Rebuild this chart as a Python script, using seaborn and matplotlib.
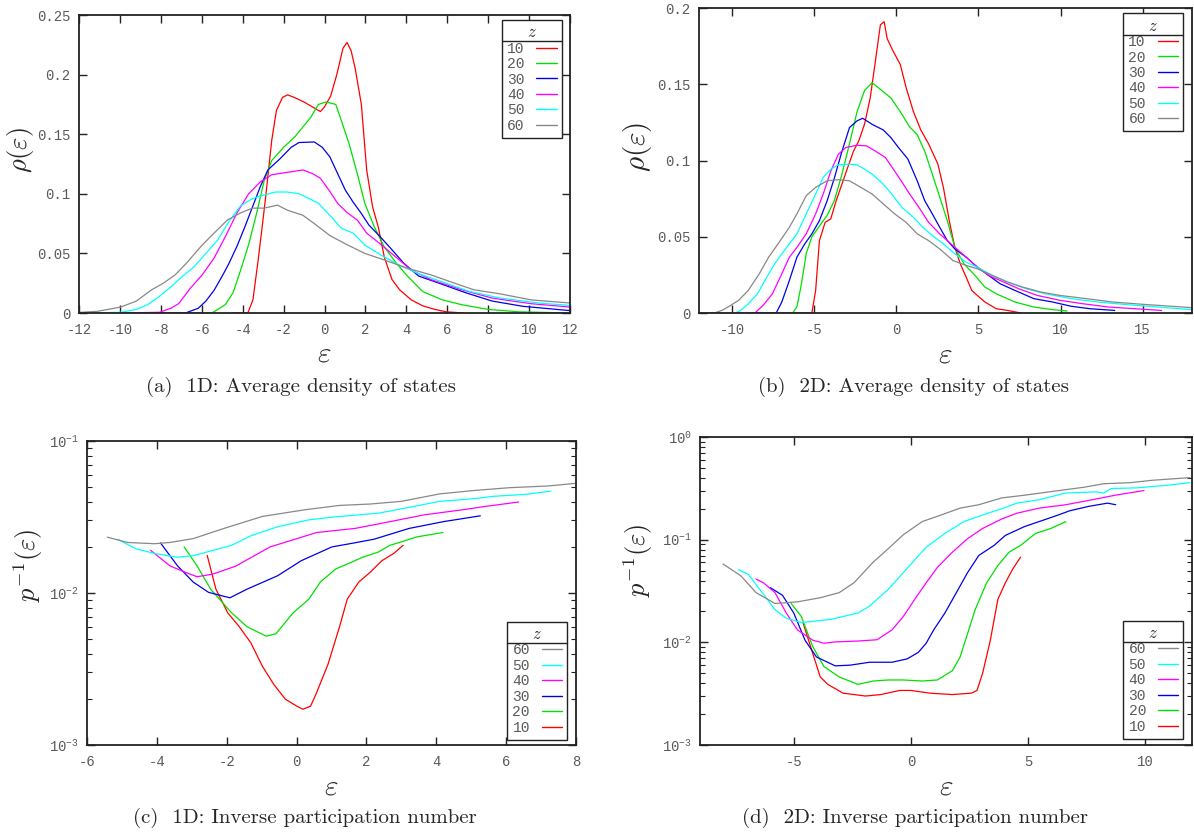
import numpy as np
import pandas as pd
import seaborn as sns
import matplotlib
matplotlib.use("Agg")
import matplotlib.pyplot as plt
from matplotlib.lines import Line2D
from matplotlib.ticker import FuncFormatter, LogLocator, NullFormatter

z_values = [10, 20, 30, 40, 50, 60]
z_colors = ["#ff0000", "#00e000", "#0000e6", "#ff00ff", "#00ffff", "#888888"]

# (a) 1D average density of states
a_x10 = [-4.5, -3.75, -3.5, -3.24, -3.05, -2.86, -2.58, -2.35, -2.05, -1.8, -1.5, -1.0, -0.5, -0.2, 0.0, 0.3, 0.6,
         0.9, 1.1, 1.3, 1.5, 1.8, 2.06, 2.35, 2.63, 2.92, 3.3, 3.67, 4.24, 4.8, 5.4, 5.95, 6.8]
a_y10 = [0, 0, 0.011, 0.045, 0.072, 0.1, 0.145, 0.17, 0.181, 0.183, 0.181, 0.177, 0.172, 0.169, 0.173, 0.182, 0.2,
         0.222, 0.227, 0.22, 0.205, 0.175, 0.12, 0.089, 0.072, 0.047, 0.028, 0.0195, 0.011, 0.006, 0.003, 0.001, 0.0]
a_x20 = [-7, -5.5, -4.85, -4.47, -4.1, -3.7, -3.33, -2.95, -2.58, -2.0, -1.44, -1.06, -0.68, -0.3, 0.08, 0.55, 0.83,
         1.2, 1.6, 1.97, 2.44, 2.9, 3.5, 4.05, 4.8, 5.76, 6.7, 8.0, 9.5, 12]
a_y20 = [0, 0, 0.007, 0.017, 0.036, 0.058, 0.083, 0.111, 0.128, 0.139, 0.148, 0.156, 0.164, 0.175, 0.177, 0.175, 0.161,
         0.142, 0.117, 0.092, 0.072, 0.056, 0.042, 0.031, 0.018, 0.011, 0.007, 0.003, 0.001, 0.0]
a_x30 = [-9, -6.8, -6.17, -5.8, -5.4, -5.0, -4.66, -4.28, -3.9, -3.52, -3.14, -2.77, -2.2, -1.63, -1.25, -0.5, -0.11,
         0.26, 0.64, 1.02, 1.4, 1.78, 2.16, 2.72, 3.3, 3.86, 4.6, 5.76, 6.9, 8.2, 9.7, 12]
a_y30 = [0, 0, 0.004, 0.010, 0.019, 0.031, 0.042, 0.056, 0.072, 0.089, 0.106, 0.12, 0.129, 0.139, 0.143, 0.1435, 0.139,
         0.131, 0.117, 0.103, 0.093, 0.084, 0.074, 0.064, 0.053, 0.042, 0.031, 0.024, 0.017, 0.010, 0.0056, 0.002]
a_x40 = [-10, -8.07, -7.5, -7.12, -6.55, -5.98, -5.4, -4.85, -4.28, -3.71, -3.14, -2.58, -1.82, -1.06, -0.59, -0.2,
         0.26, 0.64, 1.12, 1.6, 2.06, 2.72, 3.48, 4.24, 5.2, 6.7, 8.2, 10.1, 12]
a_y40 = [0, 0.0006, 0.004, 0.008, 0.021, 0.032, 0.046, 0.064, 0.084, 0.1, 0.11, 0.116, 0.118, 0.12, 0.117, 0.113,
         0.102, 0.092, 0.084, 0.078, 0.067, 0.058, 0.047, 0.036, 0.028, 0.0195, 0.0125, 0.0078, 0.005]
a_x50 = [-11.5, -9.96, -9.2, -8.64, -8.07, -7.5, -6.93, -6.36, -5.8, -5.23, -4.66, -4.1, -3.52, -2.95, -2.39, -1.82,
         -1.25, -0.87, -0.3, 0.26, 0.83, 1.4, 1.97, 2.72, 3.67, 4.6, 5.76, 7.1, 8.6, 10.5, 12]
a_y50 = [0, 0.0006, 0.003, 0.007, 0.014, 0.022, 0.031, 0.039, 0.05, 0.061, 0.077, 0.09, 0.096, 0.099, 0.1015, 0.1015,
         0.1, 0.097, 0.092, 0.082, 0.071, 0.067, 0.057, 0.049, 0.04, 0.033, 0.026, 0.018, 0.0125, 0.0083, 0.0064]
a_x60 = [-12, -11.1, -9.96, -9.2, -8.45, -7.88, -7.3, -6.74, -5.98, -5.4, -4.75, -4.1, -3.52, -2.95, -2.3, -1.82,
         -1.06, -0.5, 0.26, 1.02, 1.97, 2.92, 4.05, 5.2, 6.36, 7.3, 8.6, 10.1, 12]
a_y60 = [0.0005, 0.0014, 0.005, 0.01, 0.0195, 0.025, 0.032, 0.042, 0.057, 0.067, 0.078, 0.084, 0.088, 0.088, 0.0905,
         0.0863, 0.082, 0.075, 0.065, 0.058, 0.05, 0.0445, 0.0376, 0.032, 0.025, 0.0195, 0.016, 0.011, 0.0084]

# (b) 2D average density of states
b_x10 = [-7, -5.13, -4.9, -4.67, -4.32, -3.98, -3.64, -3.3, -2.95, -2.6, -2.27, -1.92, -1.58, -1.24, -0.96, -0.73,
         -0.55, -0.2, 0.25, 0.6, 1.05, 1.5, 1.97, 2.54, 2.88, 3.23, 3.57, 3.91, 4.26, 4.6, 4.94, 5.4, 6.09, 6.77, 7.6]
b_y10 = [0, 0, 0.0148, 0.0475, 0.0595, 0.0617, 0.074, 0.0845, 0.0954, 0.106, 0.113, 0.124, 0.141, 0.167, 0.189, 0.191,
         0.18, 0.172, 0.163, 0.148, 0.132, 0.12, 0.111, 0.0976, 0.082, 0.0605, 0.043, 0.032, 0.0235, 0.0148, 0.0115,
         0.0072, 0.0028, 0.0017, 0.0]
b_x20 = [-8, -6.3, -6.04, -5.8, -5.47, -5.13, -4.67, -4.2, -3.75, -3.3, -2.84, -2.38, -1.92, -1.46, -1.0, -0.32, 0.25,
         0.82, 1.28, 1.74, 2.2, 2.65, 3.11, 3.57, 4.14, 4.71, 5.4, 6.09, 7.23, 8.38, 9.52, 10.4]
b_y20 = [0, 0, 0.004, 0.017, 0.039, 0.05, 0.057, 0.064, 0.074, 0.091, 0.111, 0.132, 0.146, 0.151, 0.147, 0.141, 0.132,
         0.122, 0.117, 0.106, 0.091, 0.076, 0.0606, 0.043, 0.032, 0.0257, 0.017, 0.0126, 0.0072, 0.0039, 0.0022, 0.0013]
b_x30 = [-9, -7.3, -6.96, -6.5, -6.04, -5.58, -5.13, -4.67, -4.2, -3.75, -3.3, -2.84, -2.38, -2.04, -1.46, -0.78,
         -0.32, 0.14, 0.71, 1.28, 1.74, 2.2, 2.65, 3.11, 3.57, 4.26, 4.94, 5.63, 6.32, 7.23, 8.38, 9.52, 10.66, 11.8, 13.3]
b_y30 = [0, 0, 0.0072, 0.0213, 0.0366, 0.045, 0.0519, 0.0606, 0.0736, 0.0889, 0.106, 0.1216, 0.126, 0.1277, 0.1237,
         0.12, 0.115, 0.1085, 0.101, 0.0867, 0.0736, 0.065, 0.0562, 0.0475, 0.042, 0.0366, 0.030, 0.0246, 0.0192,
         0.0148, 0.0094, 0.0072, 0.0044, 0.0028, 0.0017]
b_x40 = [-10, -8.6, -8.1, -7.53, -6.96, -6.5, -6.04, -5.47, -4.9, -4.44, -3.98, -3.52, -3.07, -2.38, -1.8, -1.24,
         -0.66, -0.09, 0.37, 0.82, 1.4, 1.97, 2.65, 3.34, 4.03, 4.71, 5.63, 6.54, 7.46, 8.6, 9.98, 11.35, 12.95, 14.55,
         16.15]
b_y40 = [0, 0, 0.005, 0.0126, 0.0257, 0.0366, 0.043, 0.052, 0.065, 0.078, 0.093, 0.104, 0.1085, 0.110, 0.1096, 0.106,
         0.102, 0.093, 0.0856, 0.078, 0.069, 0.0595, 0.0519, 0.0453, 0.0388, 0.0322, 0.0246, 0.0203, 0.0159, 0.0115,
         0.0083, 0.0061, 0.0039, 0.0028, 0.0017]
b_x50 = [-12, -9.8, -9.47, -9.0, -8.44, -7.87, -7.41, -6.96, -6.5, -6.04, -5.47, -4.9, -4.44, -3.98, -3.52, -2.84,
         -2.38, -1.92, -1.46, -0.78, -0.2, 0.37, 1.05, 1.62, 2.2, 2.88, 3.57, 4.26, 4.94, 5.86, 6.77, 7.92, 9.06,
         10.66, 12.27, 14.1, 15.9, 18]
b_y50 = [0, 0, 0.0017, 0.006, 0.0126, 0.0235, 0.032, 0.0388, 0.0453, 0.0519, 0.065, 0.078, 0.0889, 0.0943, 0.0972,
         0.0976, 0.0972, 0.0943, 0.091, 0.0845, 0.077, 0.069, 0.0627, 0.0562, 0.0508, 0.0453, 0.0388, 0.0333, 0.030,
         0.0246, 0.0203, 0.0159, 0.0126, 0.0094, 0.0072, 0.0054, 0.0039, 0.0022]
b_x60 = [-12, -11.07, -10.6, -10.16, -9.59, -9.0, -8.33, -7.76, -7.19, -6.5, -6.04, -5.47, -4.9, -4.2, -3.52, -2.84,
         -2.15, -1.46, -0.78, -0.09, 0.6, 1.28, 1.97, 2.65, 3.46, 4.26, 4.94, 5.86, 6.77, 7.69, 8.83, 9.98, 11.58,
         13.18, 15.0, 18]
b_y60 = [0, 0, 0.0017, 0.0044, 0.0083, 0.0148, 0.0257, 0.0366, 0.0453, 0.0562, 0.065, 0.077, 0.0824, 0.0867, 0.0874,
         0.0867, 0.0824, 0.078, 0.0715, 0.065, 0.0595, 0.0519, 0.0475, 0.042, 0.0344, 0.0312, 0.029, 0.0246, 0.0203,
         0.017, 0.0137, 0.0115, 0.0094, 0.0072, 0.0057, 0.0035]

# (c) 1D inverse participation number
c_x10 = [-2.56, -2.31, -1.97, -1.64, -1.31, -0.98, -0.65, -0.32, 0.01, 0.18, 0.4, 0.57, 0.9, 1.23, 1.45, 1.78, 2.11,
         2.44, 2.78, 3.05]
c_y10 = [0.0177, 0.0106, 0.0074, 0.0060, 0.0047, 0.0033, 0.0025, 0.0020, 0.0018, 0.00172, 0.0018, 0.0022, 0.0034,
         0.0060, 0.0091, 0.0118, 0.0137, 0.0163, 0.0182, 0.0206]
c_x20 = [-3.22, -2.85, -2.46, -1.86, -1.42, -0.87, -0.59, -0.1, 0.35, 0.68, 1.12, 1.45, 1.89, 2.34, 2.67, 3.0, 3.44, 4.19]
c_y20 = [0.0201, 0.0151, 0.0106, 0.0074, 0.0060, 0.0052, 0.0054, 0.0074, 0.0091, 0.0118, 0.0144, 0.0155, 0.0172,
         0.0186, 0.0206, 0.0217, 0.0234, 0.0250]
c_x30 = [-3.9, -3.41, -2.96, -2.52, -1.91, -1.42, -0.54, 0.13, 1.01, 1.67, 2.22, 3.22, 4.21, 5.26]
c_y30 = [0.0214, 0.0151, 0.0118, 0.0101, 0.0093, 0.0106, 0.0130, 0.0163, 0.0201, 0.0214, 0.0226, 0.0266, 0.0295, 0.0322]
c_x40 = [-4.18, -3.63, -3.19, -2.85, -2.41, -1.75, -0.76, 0.57, 1.67, 2.55, 3.66, 4.76, 5.43, 6.36]
c_y40 = [0.0191, 0.0151, 0.0137, 0.0128, 0.0133, 0.0150, 0.0201, 0.0250, 0.0266, 0.0291, 0.0327, 0.0353, 0.0372, 0.0397]
c_x50 = [-5.12, -4.62, -4.07, -3.41, -2.96, -1.86, -1.31, -0.54, 0.35, 1.23, 2.34, 3.22, 4.1, 5.1, 5.65, 6.53, 7.28]
c_y50 = [0.0226, 0.0196, 0.0182, 0.0172, 0.0176, 0.0206, 0.0238, 0.0273, 0.0303, 0.0319, 0.0335, 0.0366, 0.0401,
         0.0418, 0.0433, 0.0445, 0.0468]
c_x60 = [-5.42, -4.84, -4.07, -3.63, -2.96, -2.08, -0.98, 0.24, 1.23, 2.11, 3.0, 4.1, 5.1, 6.09, 7.2, 8.0]
c_y60 = [0.0233, 0.0215, 0.0211, 0.0215, 0.0228, 0.0266, 0.0319, 0.0353, 0.0377, 0.0385, 0.0401, 0.0449, 0.0473,
         0.0493, 0.0506, 0.0527]

# (d) 2D inverse participation number
d_x10 = [-4.6, -4.19, -3.87, -3.55, -2.9, -1.94, -1.29, -0.48, 0.0, 0.81, 1.77, 2.58, 2.82, 3.06, 3.39, 3.71, 4.03,
         4.35, 4.68]
d_y10 = [0.0154, 0.0078, 0.0046, 0.0039, 0.0032, 0.003, 0.0031, 0.0034, 0.0034, 0.0032, 0.0031, 0.0032, 0.0034, 0.005,
         0.0105, 0.0262, 0.038, 0.052, 0.0676]
d_x20 = [-5.11, -4.68, -4.19, -3.71, -3.06, -2.26, -1.61, -0.97, -0.32, 0.48, 1.13, 1.77, 2.1, 2.42, 2.74, 3.23, 3.71,
         4.19, 4.68, 5.32, 5.97, 6.61]
d_y20 = [0.0239, 0.0179, 0.0091, 0.0058, 0.0046, 0.0039, 0.0042, 0.0043, 0.0043, 0.0042, 0.0043, 0.0053, 0.0072,
         0.0122, 0.0208, 0.038, 0.0559, 0.0756, 0.088, 0.115, 0.1286, 0.150]
d_x30 = [-6.0, -5.48, -5.0, -4.52, -4.03, -3.23, -2.58, -1.77, -0.81, -0.16, 0.32, 0.65, 0.97, 1.45, 1.94, 2.42, 2.9,
         3.55, 4.03, 4.84, 5.65, 6.29, 6.77, 7.58, 8.39, 8.74]
d_y30 = [0.0341, 0.0287, 0.0193, 0.0105, 0.0072, 0.0059, 0.006, 0.0064, 0.0064, 0.0069, 0.0080, 0.0098, 0.0132, 0.0193,
         0.0305, 0.0479, 0.0703, 0.088, 0.110, 0.134, 0.155, 0.174, 0.191, 0.211, 0.227, 0.219]
d_x40 = [-6.61, -6.29, -5.8, -5.32, -4.84, -4.19, -3.71, -3.23, -2.26, -1.45, -0.81, -0.32, 0.16, 0.65, 1.13, 1.77,
         2.42, 3.06, 3.87, 4.52, 5.48, 6.61, 7.74, 8.71, 9.95]
d_y40 = [0.0413, 0.038, 0.0305, 0.0193, 0.0132, 0.0105, 0.0098, 0.0101, 0.0103, 0.0106, 0.0132, 0.0179, 0.0262, 0.038,
         0.0537, 0.0756, 0.1024, 0.1286, 0.159, 0.181, 0.203, 0.219, 0.245, 0.271, 0.301]
d_x50 = [-7.37, -6.94, -6.45, -5.8, -5.32, -4.68, -4.19, -3.39, -2.26, -1.77, -0.97, -0.32, 0.65, 1.45, 2.26, 3.06,
         3.87, 4.52, 5.48, 6.61, 7.9, 8.23, 8.55, 9.68, 10.97, 11.9]
d_y50 = [0.051, 0.046, 0.0328, 0.0208, 0.0172, 0.0156, 0.016, 0.0168, 0.0193, 0.0225, 0.0328, 0.0479, 0.0845, 0.115,
         0.150, 0.174, 0.2, 0.227, 0.245, 0.285, 0.292, 0.285, 0.315, 0.32, 0.34, 0.359]
d_x60 = [-8.02, -7.26, -6.61, -5.8, -4.84, -3.87, -3.06, -2.42, -1.61, -0.97, -0.32, 0.48, 1.29, 2.1, 2.9, 3.87, 4.84,
         6.13, 7.42, 8.23, 9.35, 10.3, 11.9]
d_y60 = [0.058, 0.0445, 0.0305, 0.0239, 0.0248, 0.0272, 0.0305, 0.0382, 0.0605, 0.0816, 0.112, 0.150, 0.174, 0.203,
         0.219, 0.255, 0.271, 0.297, 0.325, 0.351, 0.359, 0.379, 0.402]

captions = ["(a)  1D: Average density of states", "(b)  2D: Average density of states",
            "(c)  1D: Inverse participation number", "(d)  2D: Inverse participation number"]

palette = dict(zip(z_values, z_colors))
TICK_GRAY = "#5a5a5a"


def frame(xs, ys):
    parts = [pd.DataFrame({"eps": x, "val": y, "z": z}) for z, x, y in zip(z_values, xs, ys)]
    return pd.concat(parts, ignore_index=True)


def style_axes(ax, xlim, xticks, ylim, yticks=None, log=False):
    ax.set_xlim(xlim)
    ax.set_ylim(ylim)
    ax.set_xticks(xticks)
    ax.xaxis.set_major_formatter(FuncFormatter(lambda v, p: "%g" % v))
    if log:
        ax.set_yscale("log")
        ax.set_ylim(ylim)
        ax.yaxis.set_major_locator(LogLocator(base=10, numticks=10))
        ax.yaxis.set_minor_locator(LogLocator(base=10, subs=np.arange(2, 10), numticks=20))
        ax.yaxis.set_minor_formatter(NullFormatter())
    else:
        ax.set_yticks(yticks)
        ax.yaxis.set_major_formatter(FuncFormatter(lambda v, p: "%g" % v))
    ax.tick_params(which="both", direction="in", top=True, right=True, color="#222222",
                   labelcolor=TICK_GRAY, labelsize=10)
    ax.tick_params(which="major", length=6, width=1.0)
    ax.tick_params(which="minor", length=3.5, width=0.8)
    ax.tick_params(axis="x", pad=7)
    ax.tick_params(axis="y", pad=6)
    for s in ax.spines.values():
        s.set_color("#222222")
        s.set_linewidth(1.3)
    ax.set_xlabel(r"$\varepsilon$", fontsize=21)


def z_legend(ax, order, loc, anchor):
    handles = [Line2D([], [], color=palette[z], lw=1.0) for z in order]
    leg = ax.legend(handles, [str(z) for z in order], title="$z$", loc=loc, bbox_to_anchor=anchor,
                    borderaxespad=0, markerfirst=False, frameon=True, fancybox=False, edgecolor="#222222",
                    framealpha=1, handlelength=1.4, handletextpad=0.8, labelspacing=0.1, borderpad=0.35,
                    fontsize=10.5, title_fontsize=12)
    leg.get_frame().set_linewidth(1.0)
    for t in leg.get_texts():
        t.set_color(TICK_GRAY)
    return leg


sns.set_theme(style="ticks")
plt.rcParams["font.family"] = ["Liberation Mono", "DejaVu Sans Mono"]
plt.rcParams["mathtext.fontset"] = "cm"
plt.rcParams["axes.unicode_minus"] = False

fig = plt.figure(figsize=(11.94, 8.34), dpi=100)
ax_a = fig.add_axes([0.0662, 0.6247, 0.4112, 0.3573])
ax_b = fig.add_axes([0.5854, 0.6247, 0.4129, 0.3657])
ax_c = fig.add_axes([0.0729, 0.1067, 0.4095, 0.3645])
ax_d = fig.add_axes([0.5863, 0.1067, 0.4121, 0.3693])

df_a = frame([a_x10, a_x20, a_x30, a_x40, a_x50, a_x60], [a_y10, a_y20, a_y30, a_y40, a_y50, a_y60])
df_b = frame([b_x10, b_x20, b_x30, b_x40, b_x50, b_x60], [b_y10, b_y20, b_y30, b_y40, b_y50, b_y60])
df_c = frame([c_x10, c_x20, c_x30, c_x40, c_x50, c_x60], [c_y10, c_y20, c_y30, c_y40, c_y50, c_y60])
df_d = frame([d_x10, d_x20, d_x30, d_x40, d_x50, d_x60], [d_y10, d_y20, d_y30, d_y40, d_y50, d_y60])

for ax, df in [(ax_a, df_a), (ax_b, df_b), (ax_c, df_c), (ax_d, df_d)]:
    sns.lineplot(data=df, x="eps", y="val", hue="z", palette=palette, estimator=None, sort=False,
                 legend=False, lw=0.9, ax=ax)

style_axes(ax_a, (-12, 12), np.arange(-12, 13, 2), (0, 0.25), [0, 0.05, 0.1, 0.15, 0.2, 0.25])
style_axes(ax_b, (-12, 18), [-10, -5, 0, 5, 10, 15], (0, 0.2), [0, 0.05, 0.1, 0.15, 0.2])
style_axes(ax_c, (-6, 8), np.arange(-6, 9, 2), (1e-3, 1e-1), log=True)
style_axes(ax_d, (-9, 12), [-5, 0, 5, 10], (1e-3, 1e0), log=True)

ax_a.set_ylabel(r"$\rho(\varepsilon)$", fontsize=19)
ax_b.set_ylabel(r"$\rho(\varepsilon)$", fontsize=21)
for ax in (ax_c, ax_d):
    ax.set_ylabel(r"$p^{-1}(\varepsilon)$", fontsize=19)

ax_a.yaxis.set_label_coords(-0.088, 0.545)
ax_b.yaxis.set_label_coords(-0.092, 0.545)
ax_c.yaxis.set_label_coords(-0.085, 0.59)
ax_d.yaxis.set_label_coords(-0.092, 0.6)
for ax in (ax_a, ax_b, ax_c, ax_d):
    ax.xaxis.set_label_coords(0.5, -0.09)

legends = [
    z_legend(ax_a, z_values, "upper right", (0.983, 0.983)),
    z_legend(ax_b, z_values, "upper right", (0.982, 0.982)),
    z_legend(ax_c, z_values[::-1], "lower right", (0.982, 0.017)),
    z_legend(ax_d, z_values[::-1], "lower right", (0.982, 0.02)),
]

for (cx, cy), text in zip([(301, 387), (914, 387), (305, 818), (915, 818)], captions):
    fig.text(cx / 1194, 1 - cy / 834, text, ha="center", va="center", fontsize=15, family="cmr10")

# rule under each legend title, like the gnuplot key box
fig.canvas.draw()
renderer = fig.canvas.get_renderer()
inv = fig.transFigure.inverted()
for leg in legends:
    fb = leg.get_frame().get_window_extent(renderer)
    tb = leg.get_title().get_window_extent(renderer)
    y = tb.y0 - 1
    (x0, yf), (x1, _) = inv.transform([(fb.x0, y), (fb.x1, y)])
    fig.add_artist(Line2D([x0, x1], [yf, yf], transform=fig.transFigure, color="#222222", lw=1.0))

fig.savefig("out.png", dpi=100)
